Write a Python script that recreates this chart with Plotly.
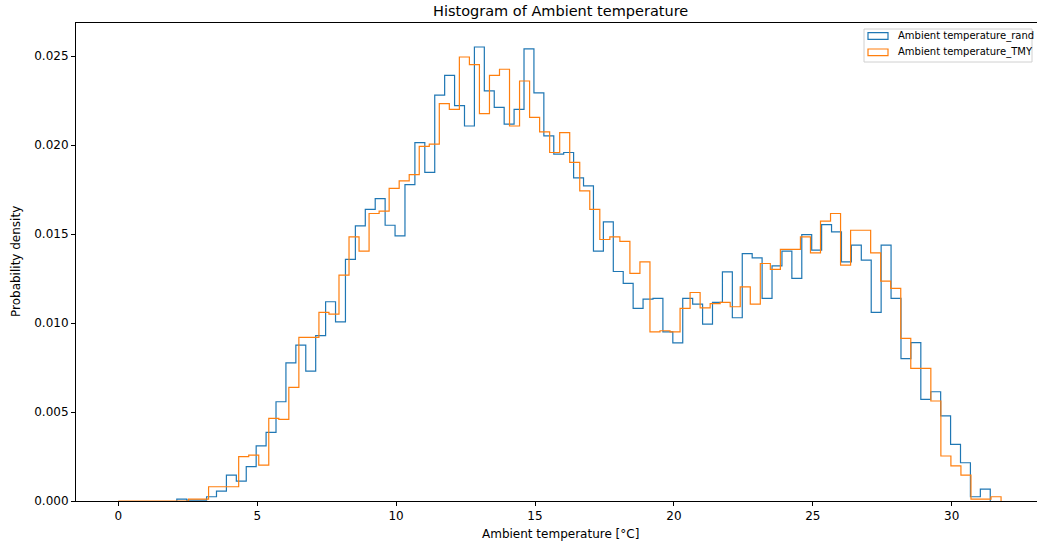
import numpy as np
import plotly.graph_objects as go

# Step-histogram densities of ambient temperature (°C), per bin
rand_start = 2.106
rand_width = 0.3571
rand_density = [
    0.0001, 0.00005, 0.00005, 0.00024, 0.00056, 0.00146, 0.00112, 0.00193, 0.0031, 0.00386,
    0.00558, 0.00777, 0.00876, 0.0073, 0.0093, 0.0112, 0.01007, 0.01358, 0.01547, 0.01639,
    0.0170, 0.0155, 0.0149, 0.01779, 0.02015, 0.01847, 0.02281, 0.02393, 0.02223, 0.02108,
    0.02552, 0.02305, 0.02213, 0.02118, 0.02202, 0.02541, 0.02294, 0.02052, 0.0195, 0.01959,
    0.01816, 0.01771, 0.01405, 0.01569, 0.0129, 0.01223, 0.01083, 0.01135, 0.01139, 0.00951,
    0.00889, 0.01139, 0.01107, 0.00994, 0.01116, 0.01288, 0.0103, 0.01391, 0.01367, 0.01139,
    0.01322, 0.01405, 0.01251, 0.01497, 0.0141, 0.01554, 0.01513, 0.01344, 0.01438, 0.01354,
    0.0106, 0.01438, 0.01139, 0.008, 0.0089, 0.00571, 0.00614, 0.00478, 0.00318, 0.00215,
    0.00024, 0.00067,
]

tmy_start = 0.0
tmy_width = 0.3611
tmy_density = [
    0.0, 0.0, 0.0, 0.0, 0.0, 0.0, 0.0, 0.0001, 0.0001, 0.0008,
    0.0008, 0.0008, 0.00249, 0.00258, 0.00202, 0.00465, 0.00459, 0.00639, 0.0092, 0.0092,
    0.0106, 0.0105, 0.0127, 0.01485, 0.01405, 0.01616, 0.0163, 0.01757, 0.0180, 0.01835,
    0.01994, 0.02006, 0.02234, 0.02202, 0.02496, 0.02453, 0.02178, 0.02393, 0.02427, 0.02108,
    0.02361, 0.02156, 0.02075, 0.01959, 0.02071, 0.01903, 0.01743, 0.01639, 0.0147, 0.01485,
    0.01459, 0.01279, 0.01344, 0.00951, 0.00957, 0.00951, 0.01083, 0.01172, 0.01086, 0.0111,
    0.01116, 0.01092, 0.01204, 0.01107, 0.01335, 0.01302, 0.01414, 0.01414, 0.01485, 0.01395,
    0.01573, 0.01616, 0.01326, 0.01522, 0.01522, 0.01395, 0.01236, 0.01195, 0.00914, 0.00745,
    0.00745, 0.00562, 0.00253, 0.00197, 0.00146, 0.0001, 0.0001, 0.00024,
]

series_names = ["Ambient temperature_rand", "Ambient temperature_TMY"]
series_colors = ["#1f77b4", "#ff7f0e"]

x_ticks = [0, 5, 10, 15, 20, 25, 30]
y_ticks = [0.0, 0.005, 0.010, 0.015, 0.020, 0.025]


def step_outline(start, width, heights):
    """Outline of a step histogram: rise at the first edge, fall at the last."""
    h = np.asarray(heights, dtype=float)
    edges = start + width * np.arange(len(h) + 1)
    xs = np.concatenate([[edges[0]], edges])
    ys = np.concatenate([[0.0], h, [0.0]])
    return xs, ys


W, H = 1037, 544
ML, MR, MT, MB = 76, 0, 23, 43
PW, PH = W - ML - MR, H - MT - MB


def px(xp):
    return (xp - ML) / PW


def py(yp):
    return (H - MB - yp) / PH


FONT = "DejaVu Sans"

fig = go.Figure()
for (start, width, dens), name, color in zip(
    [(rand_start, rand_width, rand_density), (tmy_start, tmy_width, tmy_density)],
    series_names, series_colors,
):
    xs, ys = step_outline(start, width, dens)
    fig.add_trace(go.Scatter(
        x=xs, y=ys, mode="lines", name=name,
        line=dict(color=color, width=1.2, shape="hv"),
        showlegend=False, hoverinfo="skip",
    ))

shapes = []
annotations = []

# legend frame
shapes.append(dict(type="rect", xref="paper", yref="paper",
                   x0=px(864), x1=px(1032), y0=py(62), y1=py(29),
                   line=dict(color="#d0d0d0", width=1), fillcolor="rgba(255,255,255,0.8)",
                   layer="above"))
for i, (name, color) in enumerate(zip(series_names, series_colors)):
    yc = 36 + i * 16.3
    shapes.append(dict(type="rect", xref="paper", yref="paper",
                       x0=px(868), x1=px(888), y0=py(yc + 3.3), y1=py(yc - 3.3),
                       line=dict(color=color, width=1.2), fillcolor="rgba(0,0,0,0)",
                       layer="above"))
    annotations.append(dict(xref="paper", yref="paper", x=px(896), y=py(yc),
                            xanchor="left", yanchor="middle", showarrow=False,
                            text=name, font=dict(family=FONT, size=10, color="#000")))

# title and axis labels
annotations.append(dict(xref="paper", yref="paper", x=px(560), y=py(11),
                        xanchor="center", yanchor="middle", showarrow=False,
                        text="Histogram of Ambient temperature",
                        font=dict(family=FONT, size=14.5, color="#000")))
annotations.append(dict(xref="paper", yref="paper", x=px(560), y=py(534),
                        xanchor="center", yanchor="middle", showarrow=False,
                        text="Ambient temperature [°C]",
                        font=dict(family=FONT, size=12, color="#000")))
annotations.append(dict(xref="paper", yref="paper", x=px(16), y=py(262),
                        xanchor="center", yanchor="middle", showarrow=False,
                        text="Probability density", textangle=-90,
                        font=dict(family=FONT, size=12, color="#000")))

x_per_px = 1 / 27.78
fig.update_layout(
    width=W, height=H,
    margin=dict(l=ML, r=MR, t=MT, b=MB),
    plot_bgcolor="white", paper_bgcolor="white",
    showlegend=False,
    shapes=shapes, annotations=annotations,
    xaxis=dict(
        range=[(ML - 118.3) * x_per_px, (W - 118.3) * x_per_px],
        tickvals=x_ticks, ticktext=[str(v) for v in x_ticks],
        showgrid=False, zeroline=False,
        showline=True, linecolor="#000", linewidth=1, mirror=True,
        ticks="outside", ticklen=4, tickwidth=1, tickcolor="#000",
        tickfont=dict(family=FONT, size=12, color="#000"),
    ),
    yaxis=dict(
        range=[0, 0.02687],
        tickvals=y_ticks, ticktext=[f"{v:.3f}" for v in y_ticks],
        showgrid=False, zeroline=False,
        showline=True, linecolor="#000", linewidth=1,
        ticks="outside", ticklen=4, tickwidth=1, tickcolor="#000",
        tickfont=dict(family=FONT, size=12, color="#000"),
    ),
)

fig.write_html("out.html")
